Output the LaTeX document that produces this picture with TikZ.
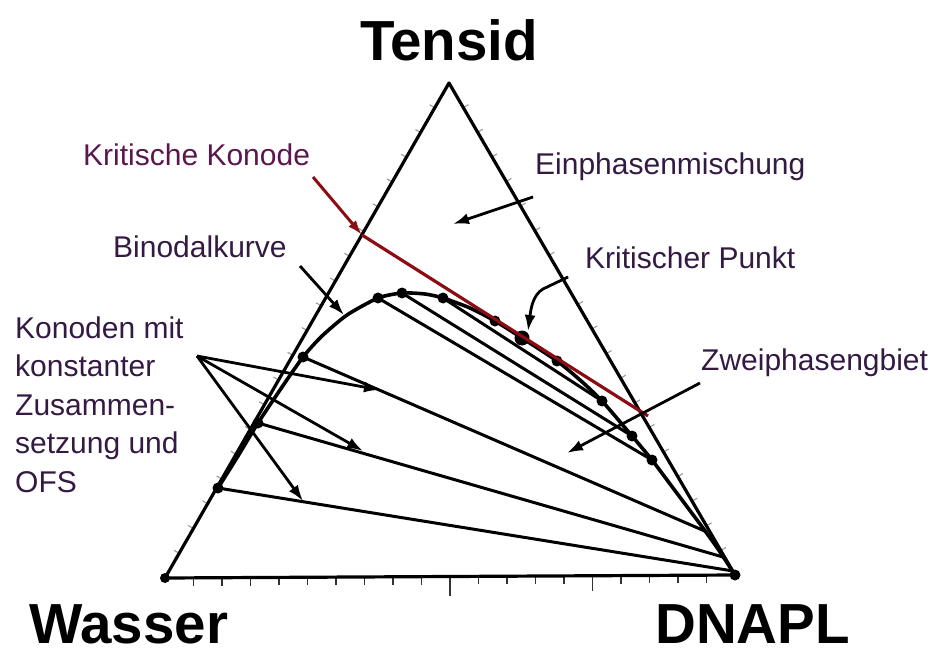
\documentclass[tikz,border=0pt]{standalone}
\usepackage{fontspec}
\setmainfont{Liberation Sans}
\usetikzlibrary{arrows.meta,calc}
\definecolor{konred}{RGB}{140,12,20}
\definecolor{labcol}{RGB}{52,26,66}
\definecolor{kkcol}{RGB}{92,22,78}
\tikzset{
  edgeline/.style={line width=3.2pt, black, line join=round},
  tieline/.style={line width=3pt, black},
  curveline/.style={line width=3.6pt, black, line join=round},
  ptr/.style={line width=2.8pt, black, -{Latex[length=16pt,width=11pt]}},
  redptr/.style={line width=3pt, konred, -{Latex[length=15pt,width=10pt]}},
  lab/.style={font=\fontsize{30}{36}\selectfont, text=labcol, anchor=base west, inner sep=0pt},
  biglab/.style={font=\fontsize{56.5}{60}\selectfont\bfseries, anchor=base, inner sep=0pt, text depth=0pt},
  bdot/.style={circle, fill=black, inner sep=0pt, minimum size=11pt},
  btick/.style={line width=1.8pt, black!80},
  stick/.style={line width=1.1pt, black!40},
}
\begin{document}
\begin{tikzpicture}[x=1pt,y=-1pt]
\useasboundingbox (0,0) rectangle (937,655);
% vertices
\coordinate (W) at (165,578);
\coordinate (T) at (449,83);
\coordinate (D) at (735,575);
% ticks
\foreach \i in {1,...,19} {
  \draw[btick] ($(W)!\i/20!(D)$) -- ++(0,8);
  \draw[stick] ($(W)!\i/20!(T)$) -- ++(-5.2,-3);
  \draw[stick] ($(T)!\i/20!(D)$) -- ++(5.2,-3);
}
\draw[btick] ($(W)!0.5!(D)$) -- ++(0,19);
\draw[btick] ($(W)!0.75!(D)$) -- ++(0,15);
% triangle
\draw[edgeline] (W) -- (T) -- (D) -- cycle;
% binodal points
\coordinate (L1) at (218,488);
\coordinate (L2) at (258,423);
\coordinate (L3) at (303,357);
\coordinate (L4) at (378,298);
\coordinate (L5) at (402,293);
\coordinate (L6) at (443,298);
\coordinate (R0) at (495,321);
\coordinate (CP) at (522,338);
\coordinate (R1) at (557,361);
\coordinate (R2) at (602,401);
\coordinate (R3) at (632,436);
\coordinate (R4) at (652,460);
\coordinate (E3) at (707,532);
\coordinate (E2) at (723,557);
\coordinate (E1) at (733,571);
% binodal curve
\draw[curveline] plot[smooth, tension=0.4] coordinates {
  (218,488) (238,456) (258,423) (280,390) (303,357) (322,336) (347,315)
  (378,298) (402,293) (425,294) (443,298) (470,308) (495,321) (522,338)
  (557,361) (580,380) (602,401) (632,436) (652,460) (676,492) (700,524)
  (718,549) (735,575)};
% tie lines
\draw[tieline] (L1) -- (E1);
\draw[tieline] (L2) -- (E2);
\draw[tieline] (L3) -- (E3);
\draw[tieline] (L4) -- (R4);
\draw[tieline] (L5) -- (R3);
\draw[tieline] (L6) -- (R2);
% dots
\foreach \p in {L1,L2,L3,L4,L5,L6,R0,R1,R2,R3,R4}
  \node[bdot] at (\p) {};
\node[bdot, minimum size=15pt] (cpdot) at (CP) {};
\node[bdot, minimum size=10pt] at (W) {};
\node[bdot, minimum size=11pt] at (D) {};
% critical tie line (red)
\coordinate (KA) at (362,235);
\coordinate (KB) at (648,416);
\draw[line width=3.2pt, konred] (KA) -- (KB);
% labels
\node[biglab] (tensid) at (449,61) {Tensid};
\node[biglab, anchor=base west] (wasser) at (29,643) {Wasser};
\node[biglab, anchor=base west] (dnapl) at (655,643) {DNAPL};
\node[lab, text=kkcol] (kk) at (83,166) {Kritische Konode};
\node[lab] (ein) at (535,175) {Einphasenmischung};
\node[lab] (bin) at (113,258) {Binodalkurve};
\node[lab] (kp) at (585,268) {Kritischer Punkt};
\node[lab] (zw) at (701,370) {Zweiphasengbiet};
\node[lab] (k1) at (15,338) {Konoden mit};
\node[lab] (k2) at (15,376.5) {konstanter};
\node[lab] (k3) at (15,415) {Zusammen-};
\node[lab] (k4) at (15,453.5) {setzung und};
\node[lab] (k5) at (15,492) {OFS};
% pointer arrows
\coordinate (kkS) at (313,177);
\draw[redptr] (kkS) -- (KA);
\coordinate (einS) at (533,197);
\coordinate (einE) at (453,224);
\draw[ptr] (einS) -- (einE);
\coordinate (binS) at (300,266);
\coordinate (binE) at (344,315);
\draw[ptr] (binS) -- (binE);
\coordinate (kpS) at (568,277);
\coordinate (kpM) at (543,289);
\coordinate (kpE) at (528,331);
\draw[ptr] (kpS) -- (kpM) .. controls (533,295) and (531,308) .. (kpE);
\coordinate (zwS) at (700,383);
\coordinate (zwE) at (567,453);
\draw[ptr] (zwS) -- (zwE);
\coordinate (koS) at (197,356);
\coordinate (ko1) at (380,390);
\coordinate (ko2) at (363,451);
\coordinate (ko3) at (303,501);
\draw[ptr] (koS) -- (ko1);
\draw[ptr] (koS) -- (ko2);
\draw[ptr] (koS) -- (ko3);
\end{tikzpicture}
\end{document}
